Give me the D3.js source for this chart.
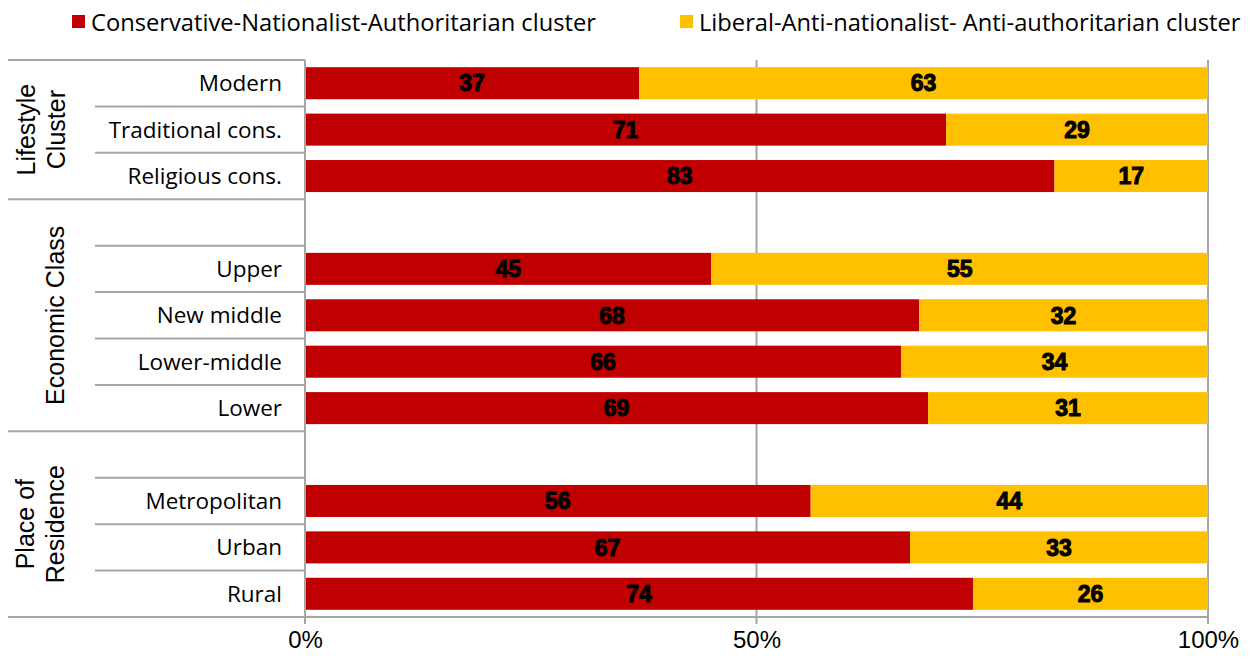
<!DOCTYPE html>
<html>
<head>
<meta charset="utf-8">
<script src="https://cdn.jsdelivr.net/npm/d3@7/dist/d3.min.js"></script>
<style>
  html, body { margin: 0; padding: 0; background: #fff; }
  svg { display: block; }
</style>
</head>
<body>
<script>
// Cluster membership by lifestyle, class and place of residence (%)
const groups = ["Lifestyle Cluster", "Economic Class", "Place of Residence"];
const groupLines = [["Lifestyle", "Cluster"], ["Economic Class"], ["Place of", "Residence"]];
const categories = ["Modern", "Traditional cons.", "Religious cons.", "Upper", "New middle", "Lower-middle", "Lower", "Metropolitan", "Urban", "Rural"];
const categoryGroup = [0, 0, 0, 1, 1, 1, 1, 2, 2, 2];
const conservative = [37, 71, 83, 45, 68, 66, 69, 56, 67, 74];
const liberal = [63, 29, 17, 55, 32, 34, 31, 44, 33, 26];
const seriesNames = ["Conservative-Nationalist-Authoritarian cluster", "Liberal-Anti-nationalist- Anti-authoritarian cluster"];
const seriesColors = ["#C00000", "#FFC000"];
const xTicks = [0, 50, 100];

const W = 1254, H = 662;
const plotL = 305, plotR = 1208, plotT = 60, plotB = 617;
const gridColor = "#A6A6A6";

const svg = d3.select("body").append("svg").attr("width", W).attr("height", H);

// Row slots: every group after the first starts with an empty spacer row
const slots = [];
const groupSlots = groups.map(() => []);
categories.forEach((c, i) => {
  const g = categoryGroup[i];
  if (g > 0 && groupSlots[g].length === 0) {
    const gap = "gap-" + g;
    slots.push(gap);
    groupSlots[g].push(gap);
  }
  slots.push(c);
  groupSlots[g].push(c);
});

const y = d3.scaleBand().domain(slots).range([plotT, plotB]).paddingInner(0.31).paddingOuter(0.155);
const x = d3.scaleLinear().domain([0, 100]).range([plotL, plotR]);
const step = y.step();
const slotTop = s => y(s) - y.paddingOuter() * step;

const rows = categories.map((c, i) => ({ cat: c, vals: [conservative[i], liberal[i]] }));

// Vertical gridlines at tick positions
svg.append("g").selectAll("line").data(xTicks.slice(1)).join("line")
  .attr("x1", d => x(d)).attr("x2", d => x(d))
  .attr("y1", plotT).attr("y2", plotB + 7)
  .attr("stroke", gridColor).attr("stroke-width", 2);

// Stacked bars with centred value labels
const barG = svg.append("g");
rows.forEach(r => {
  let acc = 0;
  r.vals.forEach((v, k) => {
    barG.append("rect")
      .attr("x", x(acc)).attr("y", y(r.cat))
      .attr("width", x(acc + v) - x(acc)).attr("height", y.bandwidth())
      .attr("fill", seriesColors[k]);
    barG.append("text")
      .attr("x", x(acc + v / 2)).attr("y", y(r.cat) + y.bandwidth() / 2)
      .attr("dy", "0.36em").attr("text-anchor", "middle")
      .attr("font-family", "'Liberation Sans', Arial, sans-serif")
      .attr("font-weight", "bold").attr("font-size", 23)
      .attr("fill", "#000").attr("stroke", "#000").attr("stroke-width", 1)
      .text(v);
    acc += v;
  });
});

// Row separators in the category column
const sepG = svg.append("g").attr("stroke", gridColor).attr("stroke-width", 2);
groupSlots.forEach((gs, g) => {
  gs.forEach((s, j) => {
    const yy = slotTop(s);
    sepG.append("line").attr("x1", j === 0 ? 8 : 95).attr("x2", plotL).attr("y1", yy).attr("y2", yy);
  });
});
sepG.append("line").attr("x1", 8).attr("x2", plotR).attr("y1", plotB).attr("y2", plotB);

// Category axis line and x axis
svg.append("line").attr("x1", plotL).attr("x2", plotL).attr("y1", plotT).attr("y2", plotB + 7)
  .attr("stroke", gridColor).attr("stroke-width", 2);

const xAxis = svg.append("g").attr("transform", `translate(0,${plotB})`)
  .call(d3.axisBottom(x).tickValues(xTicks).tickFormat(d => d + "%").tickSize(0).tickPadding(14));
xAxis.select(".domain").remove();
xAxis.selectAll("text")
  .attr("font-family", "'Liberation Sans Narrow', 'Liberation Sans', sans-serif")
  .attr("font-size", 24).attr("fill", "#000");

// Category labels
svg.append("g").selectAll("text").data(categories).join("text")
  .attr("x", 282).attr("y", d => y(d) + y.bandwidth() / 2)
  .attr("dy", "0.36em").attr("text-anchor", "end")
  .attr("font-family", "'Open Sans', 'Liberation Sans', sans-serif")
  .attr("font-size", 22.5).attr("fill", "#000")
  .text(d => d);

// Group labels, rotated
const groupLabelX = [41, 55, 40];
groupSlots.forEach((gs, g) => {
  const y0 = slotTop(gs[0]);
  const y1 = slotTop(gs[gs.length - 1]) + step;
  const cy = (y0 + y1) / 2;
  const lines = groupLines[g];
  const lh = 30;
  const t = svg.append("text")
    .attr("transform", `translate(${groupLabelX[g]},${cy}) rotate(-90)`)
    .attr("text-anchor", "middle")
    .attr("font-family", "'Liberation Sans', Arial, sans-serif")
    .attr("font-size", 25).attr("fill", "#000");
  lines.forEach((ln, i) => {
    t.append("tspan").attr("x", 0)
      .attr("y", (i - (lines.length - 1) / 2) * lh)
      .attr("dy", "0.36em").text(ln);
  });
});

// Legend
const legendX = [72, 680];
const lg = svg.append("g");
seriesNames.forEach((n, k) => {
  lg.append("rect").attr("x", legendX[k]).attr("y", 15).attr("width", 13).attr("height", 13)
    .attr("fill", seriesColors[k]);
  lg.append("text").attr("x", legendX[k] + 19).attr("y", 22).attr("dy", "0.36em")
    .attr("font-family", "'Open Sans', 'Liberation Sans', sans-serif")
    .attr("font-size", 23.7).attr("fill", "#000")
    .text(n);
});
</script>
</body>
</html>
